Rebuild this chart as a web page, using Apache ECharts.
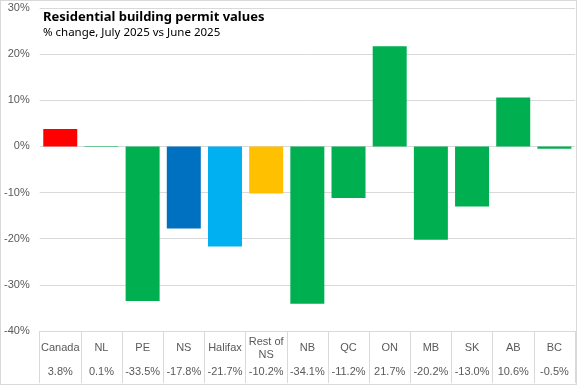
<!DOCTYPE html>
<html><head><meta charset="utf-8">
<script src="https://cdn.jsdelivr.net/npm/echarts@6/dist/echarts.min.js"></script>
<style>html,body{margin:0;padding:0;background:#fff}#c{width:577px;height:385px;box-sizing:border-box;border:1px solid #d9d9d9}</style>
</head><body><div id="c"></div>
<script>
const categories = ['Canada','NL','PE','NS','Halifax','Rest of\nNS','NB','QC','ON','MB','SK','AB','BC'];
const values = [3.8, 0.1, -33.5, -17.8, -21.7, -10.2, -34.1, -11.2, 21.7, -20.2, -13.0, 10.6, -0.5];
const barColors = ['#FF0000','#00B050','#00B050','#0070C0','#00B0F0','#FFC000','#00B050','#00B050','#00B050','#00B050','#00B050','#00B050','#00B050'];
const yTicks = {min: -40, max: 30, interval: 10};

const chart = echarts.init(document.getElementById('c'), null, {renderer: 'canvas'});
const labelFont = {fontFamily: 'Liberation Sans, Arial, sans-serif', fontSize: 11, color: '#595959'};
chart.setOption({
  animation: false,
  title: {
    text: 'Residential building permit values',
    subtext: '% change, July 2025 vs June 2025',
    left: 42, top: 10, itemGap: 3, padding: 0,
    textStyle: {fontFamily: 'Noto Sans, sans-serif', fontWeight: 'bold', fontSize: 13, color: '#000'},
    subtextStyle: {fontFamily: 'Noto Sans, sans-serif', fontSize: 11.5, color: '#000'}
  },
  grid: {left: 37, right: 1, top: 7, bottom: 53, containLabel: false},
  xAxis: [{
    type: 'category', data: categories, position: 'bottom',
    axisLine: {show: true, onZero: false, lineStyle: {color: '#d9d9d9'}},
    axisTick: {show: true, length: 52, lineStyle: {color: '#d9d9d9'}},
    axisLabel: Object.assign({margin: 17, verticalAlign: 'middle', lineHeight: 13, interval: 0}, labelFont)
  }, {
    type: 'category', data: categories, position: 'bottom',
    axisLine: {show: false, onZero: false}, axisTick: {show: false},
    axisLabel: Object.assign({margin: 41, verticalAlign: 'middle', interval: 0,
      formatter: (v, i) => values[i].toFixed(1) + '%'}, labelFont)
  }],
  yAxis: {
    type: 'value', min: yTicks.min, max: yTicks.max, interval: yTicks.interval,
    axisLine: {show: false}, axisTick: {show: false},
    axisLabel: Object.assign({margin: 10, formatter: v => v + '%'}, labelFont),
    splitLine: {lineStyle: {color: '#d9d9d9'}}
  },
  series: [{
    type: 'bar', xAxisIndex: 0, barWidth: 34,
    data: values.map((v, i) => ({value: v, itemStyle: {color: barColors[i]}}))
  }]
});
</script></body></html>
